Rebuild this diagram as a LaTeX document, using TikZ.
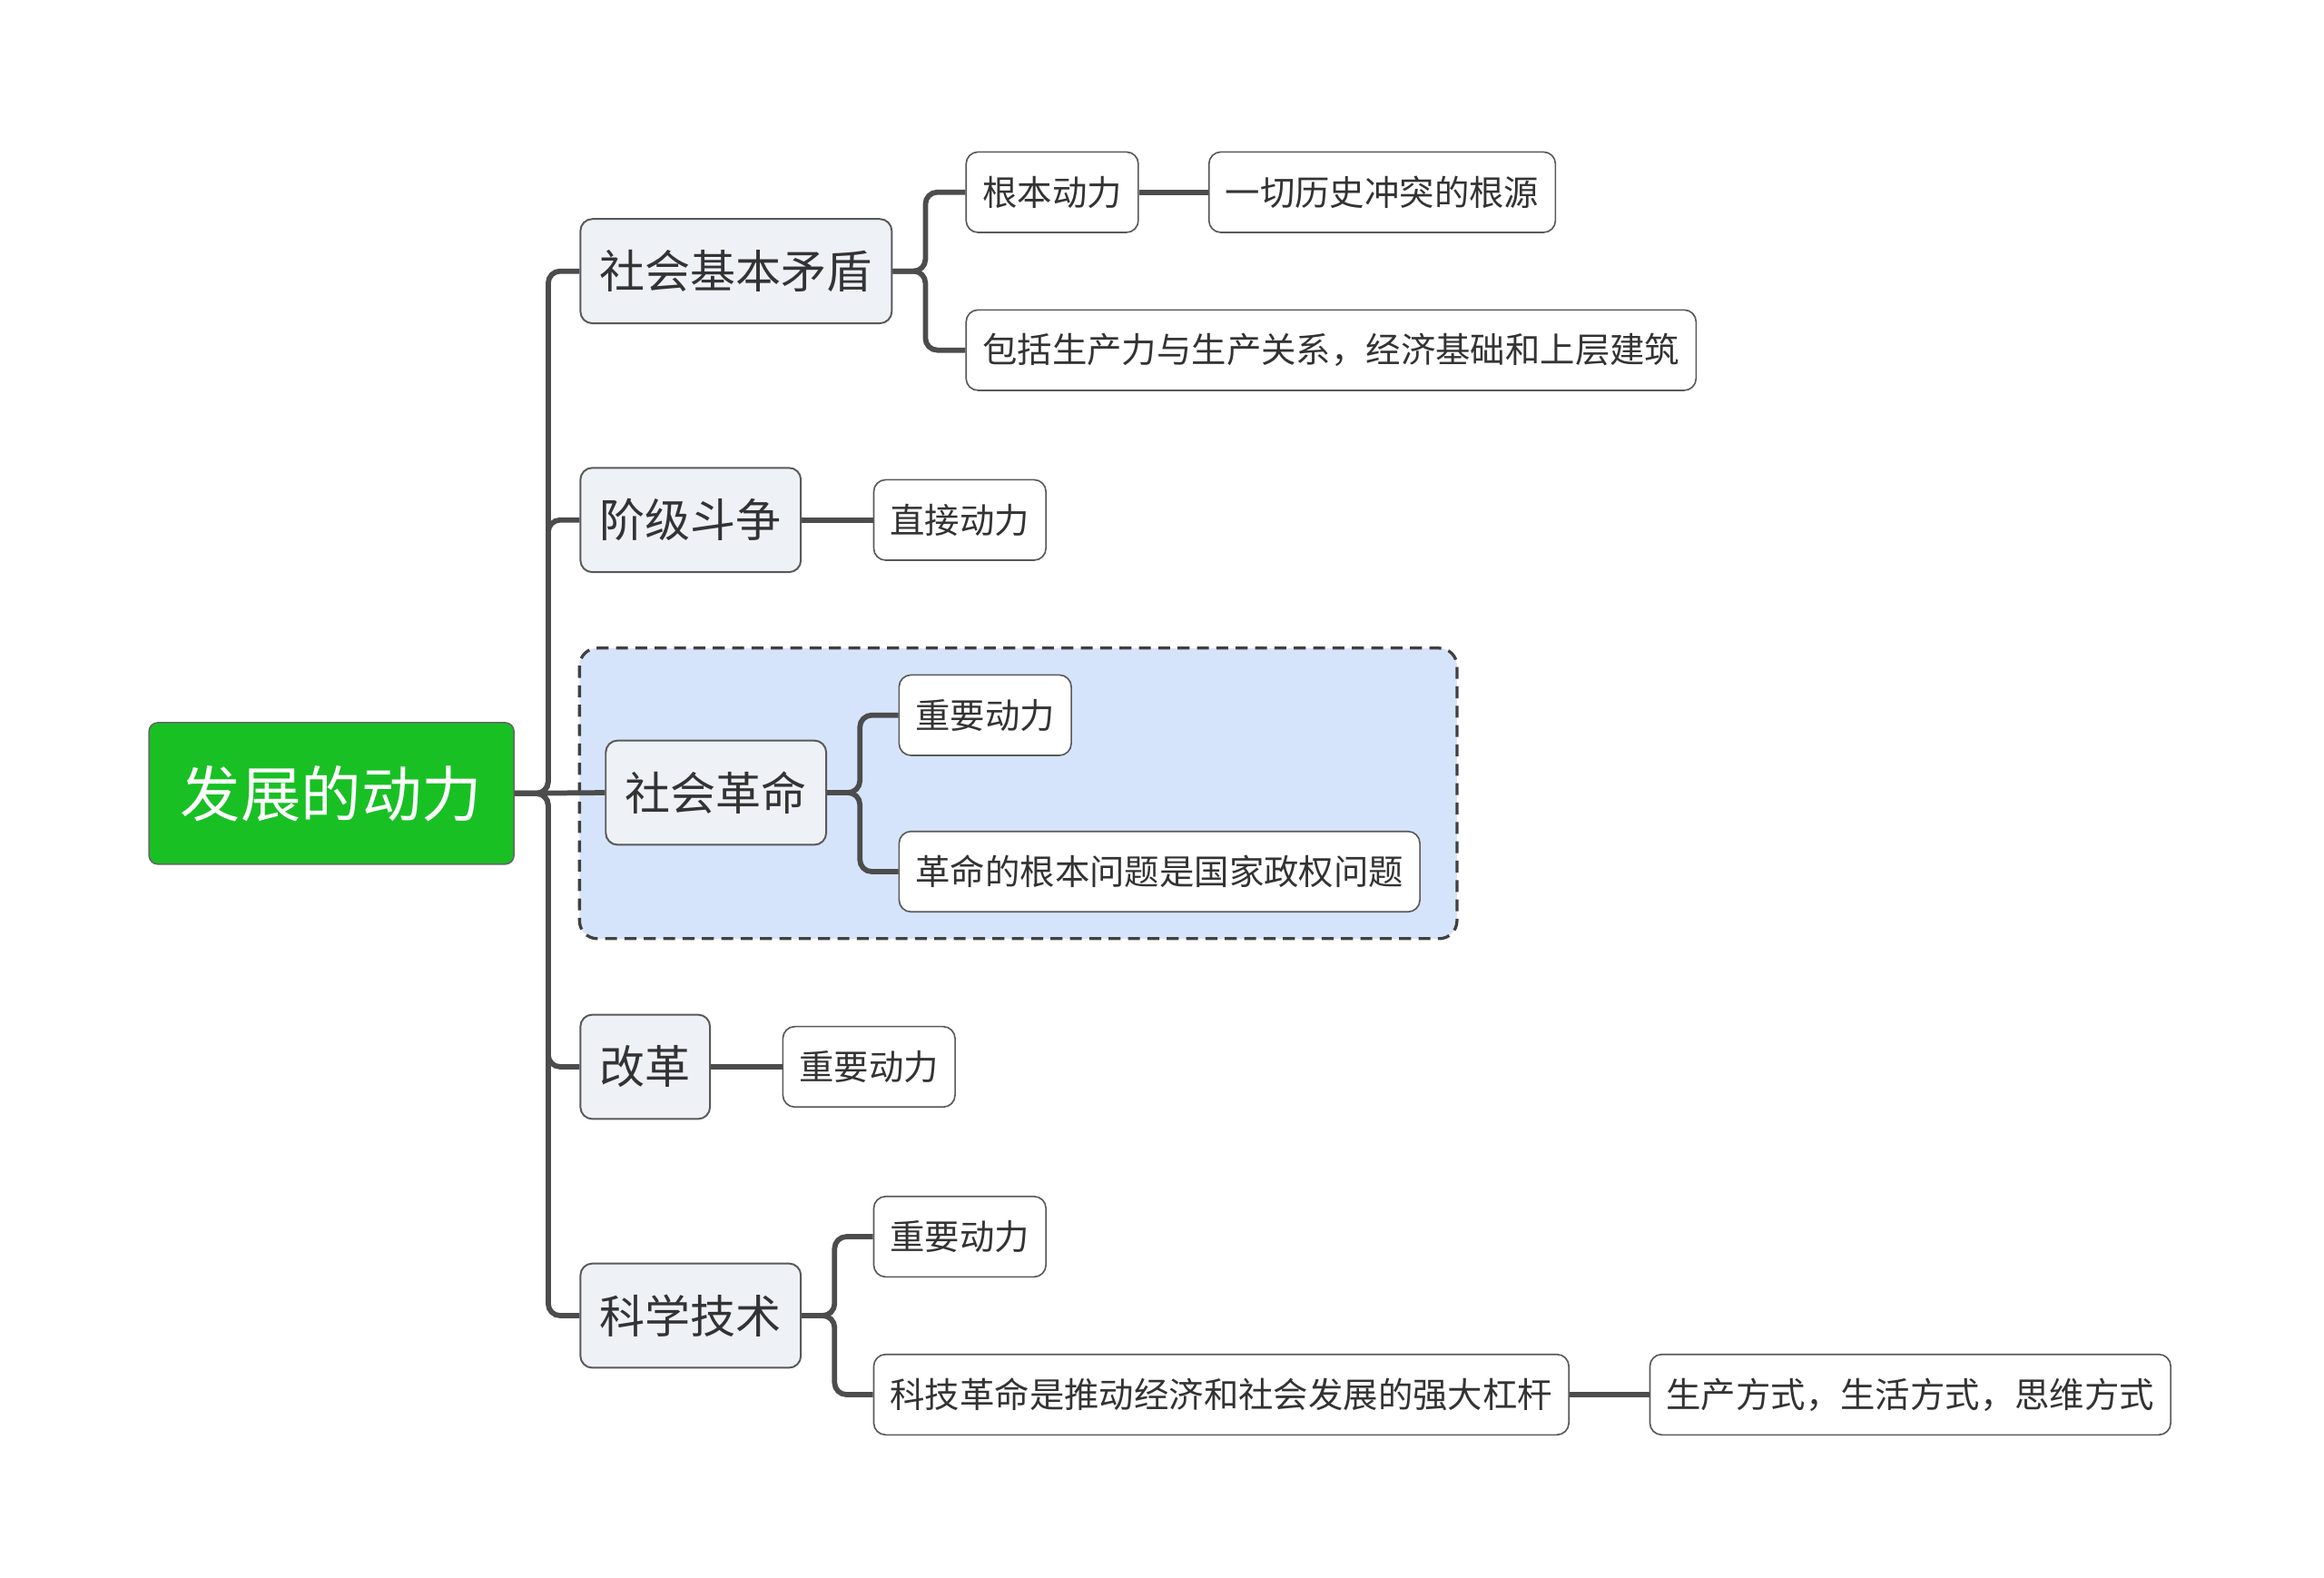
\documentclass[tikz,border=0pt]{standalone}
\usepackage{fontspec}
\setmainfont{Noto Sans CJK SC}
\begin{document}
\begin{tikzpicture}[x=1pt,y=-1pt,
 lone/.style={draw=black!65,fill={rgb,255:red,238;green,241;blue,245},rounded corners=8pt,line width=1.2pt,font=\fontsize{30.5}{31}\selectfont,text=black!80,anchor=west,inner xsep=13pt,minimum height=70pt},
 ltwo/.style={draw=black!65,fill=white,rounded corners=8pt,line width=1pt,font=\fontsize{23.4}{24}\selectfont,text=black!80,anchor=west,inner xsep=11pt,minimum height=54pt},
 conn/.style={draw=black!70,line width=3.5pt,rounded corners=8pt}]
\useasboundingbox (2,0) rectangle (1562,1059);
\draw[black!75,line width=2pt,dash pattern=on 8pt off 5pt,rounded corners=12pt,fill={rgb,255:red,214;green,228;blue,251}] (391,435) rectangle (980,630);
\node[draw=black!60,fill={rgb,255:red,24;green,192;blue,36},rounded corners=6pt,line width=1pt,minimum width=245pt,minimum height=95pt,text=white,font=\fontsize{40.5}{42}\selectfont] (root) at (224.5,532.5) {发展的动力};
\node[lone] (a) at (391,182) {社会基本矛盾};
\node[lone] (b) at (391,349) {阶级斗争};
\node[lone] (c) at (408,532) {社会革命};
\node[lone] (d) at (391,716) {改革};
\node[lone] (e) at (391,883) {科学技术};
\node[ltwo] (a1) at (650,129) {根本动力};
\node[ltwo] (a11) at (813,129) {一切历史冲突的根源};
\node[ltwo] (a2) at (650,235) {包括生产力与生产关系，经济基础和上层建筑};
\node[ltwo] (b1) at (588,349) {直接动力};
\node[ltwo] (c1) at (605,480) {重要动力};
\node[ltwo] (c2) at (605,585) {革命的根本问题是国家政权问题};
\node[ltwo] (d1) at (527,716) {重要动力};
\node[ltwo] (e1) at (588,830) {重要动力};
\node[ltwo] (e2) at (588,936) {科技革命是推动经济和社会发展的强大杠杆};
\node[ltwo] (e21) at (1109,936) {生产方式，生活方式，思维方式};
\foreach \t in {a,b,d,e}{\draw[conn] (root.east) -- (370,532.5) |- (\t.west);}
\draw[conn] (root.east) -- (c.west);
\foreach \s/\t in {a/a1,a/a2,c/c1,c/c2,e/e1,e/e2}{\draw[conn] (\s.east) -- ++(22,0) |- (\t.west);}
\draw[conn] (a1) -- (a11);
\draw[conn] (b) -- (b1);
\draw[conn] (d) -- (d1);
\draw[conn] (e2) -- (e21);
\end{tikzpicture}
\end{document}
